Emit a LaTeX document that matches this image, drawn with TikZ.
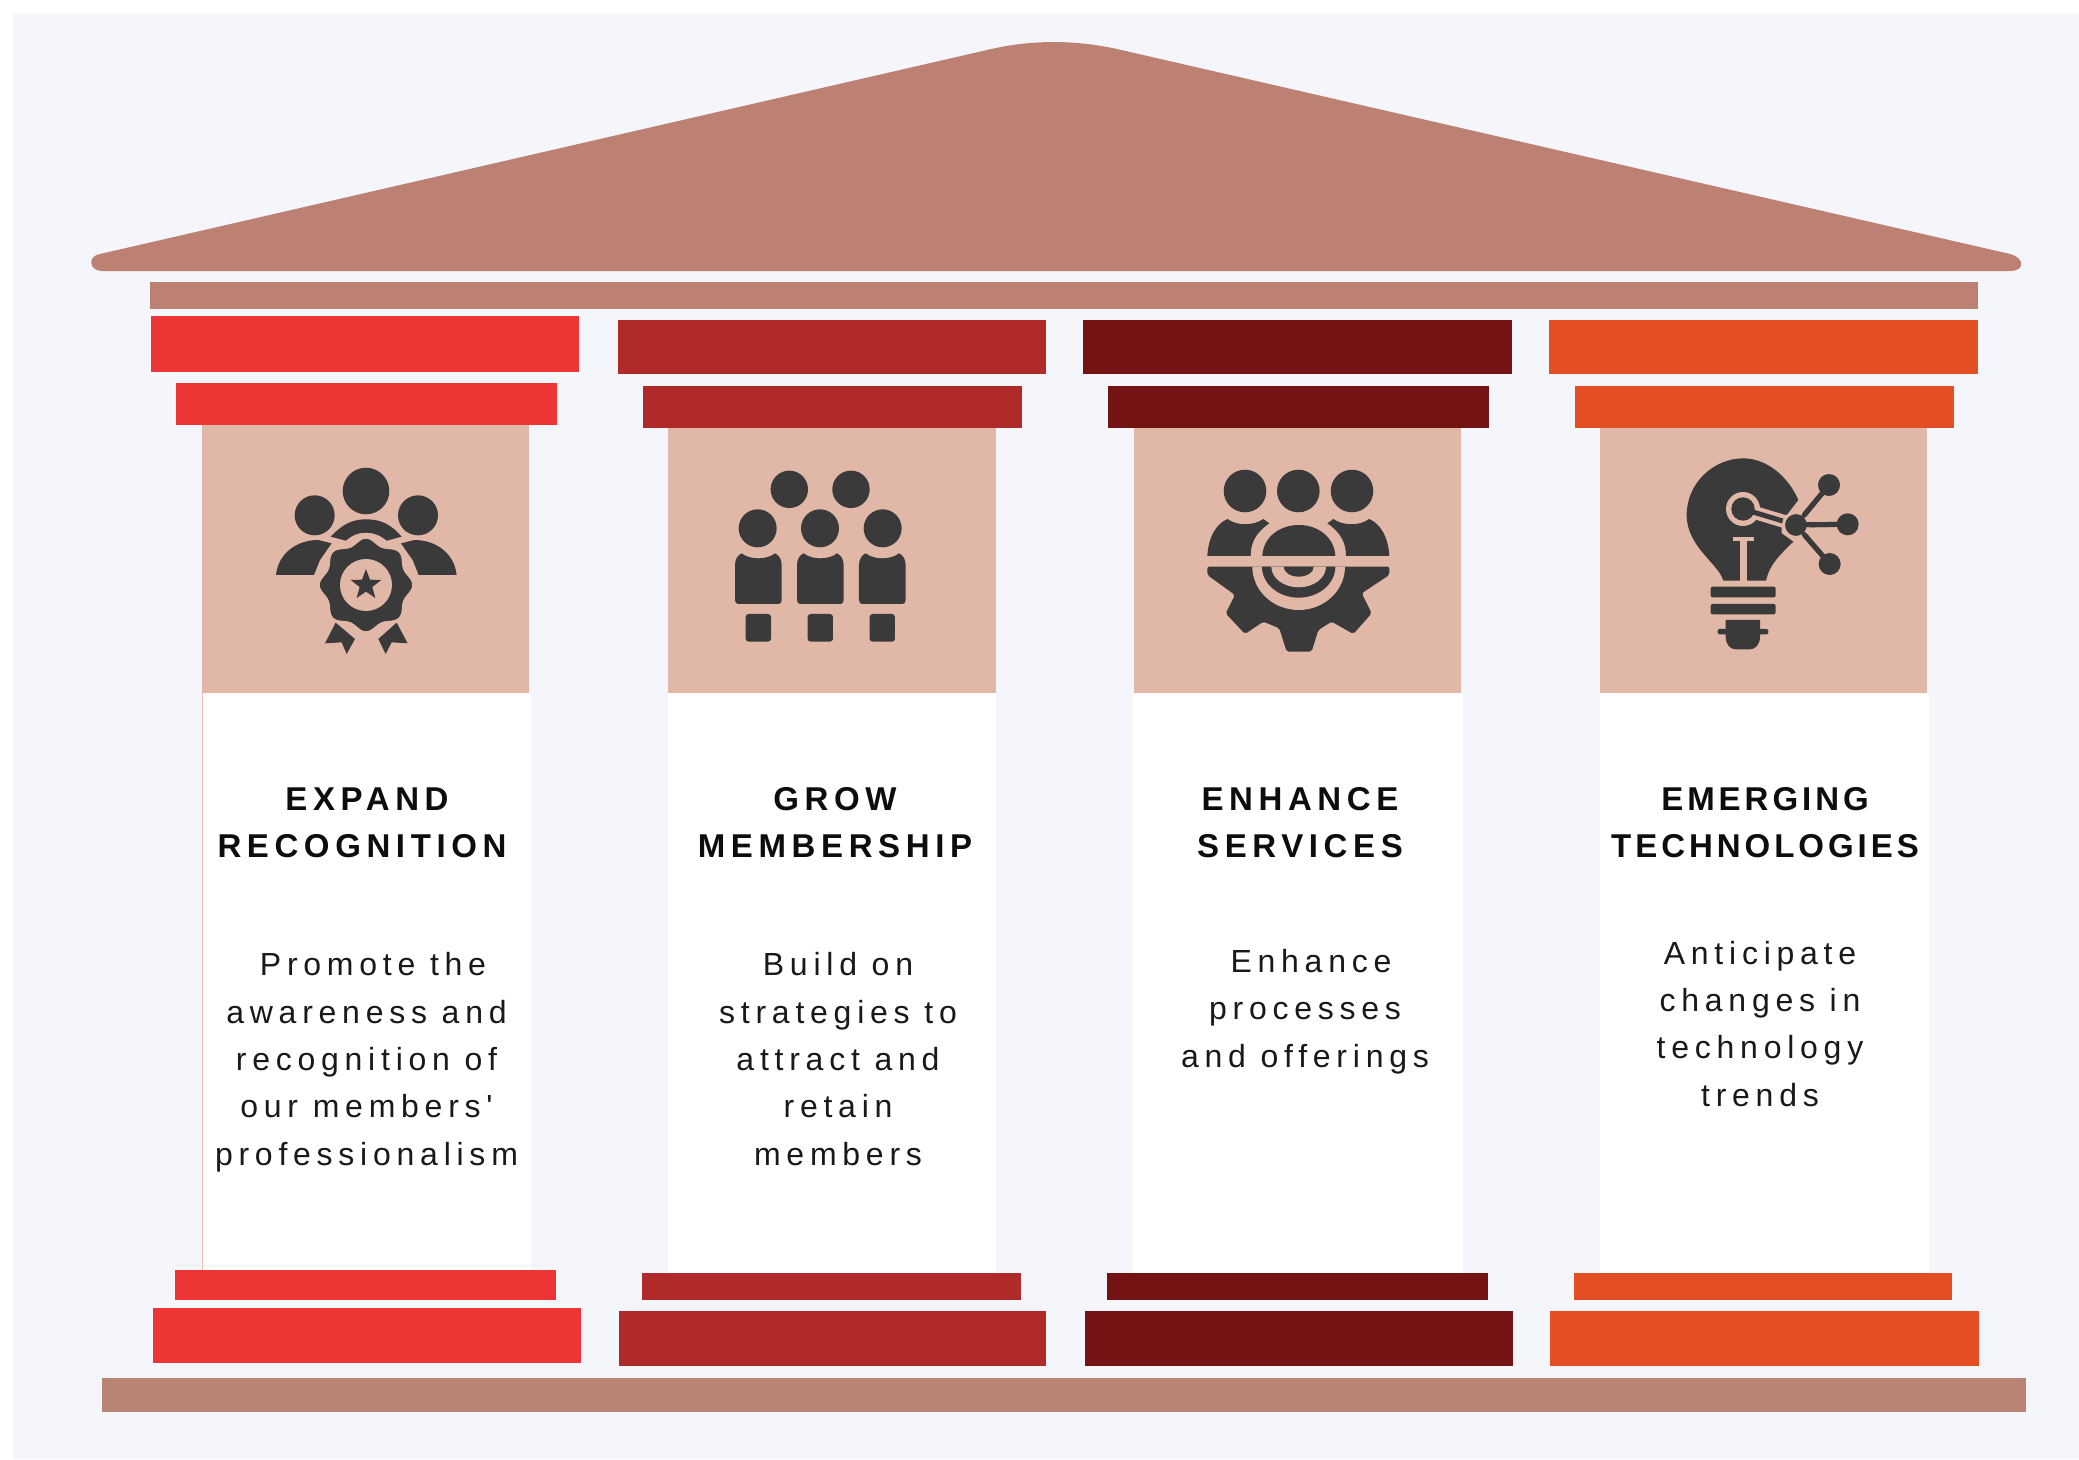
\documentclass[tikz,border=0pt]{standalone}
\usepackage{fontspec}
\newfontfamily\bodyf[LetterSpace=18]{Liberation Sans}
\newfontfamily\titlef[LetterSpace=17]{Liberation Sans}
\newfontfamily\titletight[LetterSpace=12]{Liberation Sans}
\definecolor{pagebg}{HTML}{F5F6FB}
\definecolor{roofc}{HTML}{BC8173}
\definecolor{basec}{HTML}{BA8475}
\definecolor{shaft}{HTML}{E1B7A7}
\definecolor{redA}{HTML}{EE3536}
\definecolor{redB}{HTML}{B02A2A}
\definecolor{redC}{HTML}{731313}
\definecolor{redD}{HTML}{E34E23}
\definecolor{ink}{HTML}{3A3A3A}
\tikzset{
  title/.style={anchor=base,align=center,inner sep=0pt,text=black!95,font=\titlef\bfseries\fontsize{33}{46.5}\selectfont},
  titlenarrow/.style={title,font=\titletight\bfseries\fontsize{33}{46.5}\selectfont},
  body/.style={anchor=base,align=center,inner sep=0pt,text=black!90,font=\bodyf\fontsize{32}{47.3}\selectfont},
  iconfill/.style={fill=ink},
  gap/.style={fill=shaft},
  wire/.style={draw=ink,line width=5pt,line cap=round}
}
% half ellipse below the line y=#2 in icon coordinates
\newcommand\halfdisc[5]{\fill[#5] ({#1-#3},#2) .. controls ({#1-#3},{#2+.5523*#4}) and ({#1-.5523*#3},{#2+#4}) .. (#1,{#2+#4}) .. controls ({#1+.5523*#3},{#2+#4}) and ({#1+#3},{#2+.5523*#4}) .. ({#1+#3},#2) -- cycle;}
\begin{document}
\begin{tikzpicture}[x=1pt,y=-1pt]
\useasboundingbox (0,0) rectangle (2079,1459);
\fill[white] (0,0) rectangle (2079,1459);
\fill[pagebg] (13,13) rectangle (2079,1459);
% roof
\fill[roofc] (102,271) .. controls (89,271) and (87,256) .. (100,254) -- (990,49.3) .. controls (1033,39.5) and (1076,39.6) .. (1120,49.7) -- (2010,254) .. controls (2025,258) and (2025,271) .. (2010,271) -- cycle;
\fill[roofc] (150,282) rectangle (1978,309);
% plinth
\fill[basec] (102,1378) rectangle (2026,1412);
% columns
\fill[white] (202,693) rectangle (531,1270);
\draw[line width=1pt,color=red!20!shaft!60!white] (202,693) -- (202,1270);
\fill[white] (668,693) rectangle (996,1273);
\fill[white] (1133,693) rectangle (1463,1273);
\fill[white] (1600,693) rectangle (1929,1273);
\fill[shaft] (202,425) rectangle (529,693);
\fill[shaft] (668,428) rectangle (996,693);
\fill[shaft] (1134,428) rectangle (1461,693);
\fill[shaft] (1600,428) rectangle (1927,693);
% capitals
\fill[redA] (151,316) rectangle (579,372);
\fill[redA] (176,383) rectangle (557,425);
\fill[redB] (618,320) rectangle (1046,374);
\fill[redB] (643,386) rectangle (1022,428);
\fill[redC] (1083,320) rectangle (1512,374);
\fill[redC] (1108,386) rectangle (1489,428);
\fill[redD] (1549,320) rectangle (1978,374);
\fill[redD] (1575,386) rectangle (1954,428);
% feet
\fill[redA] (175,1270) rectangle (556,1300);
\fill[redA] (153,1308) rectangle (581,1363);
\fill[redB] (642,1273) rectangle (1021,1300);
\fill[redB] (619,1311) rectangle (1046,1366);
\fill[redC] (1107,1273) rectangle (1488,1300);
\fill[redC] (1085,1311) rectangle (1513,1366);
\fill[redD] (1574,1273) rectangle (1952,1300);
\fill[redD] (1550,1311) rectangle (1979,1366);

% icon 1
\begin{scope}[shift={(240,440)},x=.3333pt,y=-.3333pt]
\fill[iconfill] (378,153) circle[radius=23.3pt];
\fill[iconfill] (224,226) circle[radius=20pt];
\fill[iconfill] (534,226) circle[radius=20pt];
\fill[iconfill] (108,405) .. controls (115,340) and (170,300) .. (235,300) -- (275,310) -- (240,360) -- (222,405) -- cycle;
\fill[iconfill] (650,405) .. controls (643,340) and (588,300) .. (523,300) -- (483,310) -- (518,360) -- (536,405) -- cycle;
\fill[iconfill] (272,290) .. controls (310,250) and (340,238) .. (378,238) .. controls (420,238) and (450,250) .. (485,290) -- (440,302) .. controls (420,285) and (400,278) .. (378,278) .. controls (356,278) and (336,285) .. (318,302) -- cycle;
\filldraw[fill=ink,draw=shaft,line width=4pt] plot[smooth cycle,domain=0:356,samples=90] ({378+(136+9*cos(8*\x))*cos(\x)},{435+(136+9*cos(8*\x))*sin(\x)});
\fill[shaft] (378,435) circle[radius=26pt];
\fill[iconfill] (378,387) -- (366,419) -- (332,420) -- (359,441) -- (350,474) -- (378,455) -- (406,474) -- (397,441) -- (424,420) -- (390,419) -- cycle;
\fill[iconfill] (287,548) -- (345,597) -- (320,642) -- (305,607) -- (255,610) -- cycle;
\fill[iconfill] (470,548) -- (415,597) -- (437,642) -- (455,607) -- (503,610) -- cycle;
\end{scope}

% icon 2
\begin{scope}[shift={(700,440)},x=.3333pt,y=-.3333pt]
\fill[iconfill] (268,148) circle[radius=18.7pt];
\fill[iconfill] (453,148) circle[radius=18.7pt];
\fill[iconfill] (173,265) circle[radius=19pt];
\fill[iconfill] (360,265) circle[radius=19pt];
\fill[iconfill] (548,265) circle[radius=19pt];
\foreach \c in {175,361,547}{
  \fill[iconfill] ({\c-70},375) .. controls ({\c-70},355) and ({\c-60},345) .. ({\c-50},340) .. controls ({\c-25},360) and ({\c+25},360) .. ({\c+50},340) .. controls ({\c+60},345) and ({\c+70},355) .. ({\c+70},375) -- ({\c+70},480) .. controls ({\c+70},488) and ({\c+66},492) .. ({\c+60},492) -- ({\c-60},492) .. controls ({\c-66},492) and ({\c-70},488) .. ({\c-70},480) -- cycle;
  \fill[iconfill,rounded corners=3pt] ({\c-38},522) rectangle ({\c+38},605);
}
\end{scope}

% icon 3
\begin{scope}[shift={(1180,440)},x=.3333pt,y=-.3333pt]
\fill[iconfill] (195,153) circle[radius=21.3pt];
\fill[iconfill] (355,153) circle[radius=21.3pt];
\fill[iconfill] (516,153) circle[radius=21.3pt];
\fill[iconfill] (82,348) .. controls (85,290) and (110,250) .. (143,237) .. controls (170,258) and (220,258) .. (250,237) -- (268,250) .. controls (225,280) and (212,310) .. (212,348) -- cycle;
\fill[iconfill] (628,348) .. controls (625,290) and (600,250) .. (567,237) .. controls (540,258) and (490,258) .. (460,237) -- (442,250) .. controls (485,280) and (498,310) .. (498,348) -- cycle;
\fill[iconfill] (247,348) .. controls (250,290) and (300,255) .. (357,255) .. controls (412,255) and (463,290) .. (466,348) -- cycle;
\fill[iconfill,rounded corners=2pt] (82,380) -- (628,380) -- (628,405) -- (545,460) -- (575,520) -- (520,582) -- (455,545) -- (415,570) -- (395,635) -- (320,635) -- (298,565) -- (250,545) -- (195,582) -- (137,520) -- (165,465) -- (82,405) -- cycle;
\halfdisc{356}{380}{139}{130}{gap}
\halfdisc{356}{380}{110}{93}{iconfill}
\halfdisc{356}{380}{82}{62}{gap}
\halfdisc{356}{380}{45}{30}{iconfill}
\end{scope}

% icon 4
\begin{scope}[shift={(1660,440)},x=.3333pt,y=-.3333pt]
\fill[iconfill] (190,422) .. controls (175,370) and (80,320) .. (80,225) .. controls (80,130) and (160,55) .. (250,55) .. controls (320,55) and (385,110) .. (415,180) -- (387,216) -- (365,255) -- (365,280) -- (400,305) .. controls (360,345) and (330,370) .. (318,422) -- cycle;
\fill[gap] (218,290) rectangle (282,303);
\fill[gap] (240,303) rectangle (262,425);
\draw[draw=shaft,line width=13pt] (249,207) -- (408,255);
\fill[gap] (249,207) circle[radius=17pt];
\fill[iconfill] (249,207) circle[radius=11.7pt];
\draw[wire] (249,207) -- (408,255);
\draw[wire] (408,255) -- (507,135);
\draw[wire] (408,255) -- (563,253);
\draw[wire] (408,255) -- (509,372);
\fill[iconfill] (507,135) circle[radius=11pt];
\fill[iconfill] (563,253) circle[radius=11pt];
\fill[iconfill] (509,372) circle[radius=11pt];
\filldraw[fill=ink,draw=shaft,line width=3pt] (408,255) circle[radius=12.5pt];
\draw[wire] (432,226) -- (507,135);
\draw[wire] (440,254) -- (563,253);
\draw[wire] (432,283) -- (509,372);
\fill[iconfill,rounded corners=2pt] (152,440) rectangle (347,472);
\fill[iconfill,rounded corners=2pt] (152,492) rectangle (347,523);
\fill[iconfill,rounded corners=2pt] (173,567) rectangle (325,583);
\fill[iconfill] (197,540) -- (300,540) -- (300,590) .. controls (300,615) and (285,628) .. (270,628) -- (227,628) .. controls (212,628) and (197,615) .. (197,590) -- cycle;
\end{scope}

% text
\node[title] (t1) at (362,857) {\hspace*{10pt}EXPAND\\RECOGNITION};
\node[title] (t2) at (835,857) {GROW\\MEMBERSHIP};
\node[title] (t3) at (1300,857) {ENHANCE\\SERVICES};
\node[titlenarrow] (t4) at (1765,857) {EMERGING\\TECHNOLOGIES};
\node[body] (b1) at (366.5,1165) {\hspace*{13pt}Promote the\\awareness and\\recognition of\\our members'\\professionalism};
\node[body] (b2) at (838,1165) {Build on\\strategies to\\attract and\\retain\\members};
\node[body] (b3) at (1305,1067) {\hspace*{12pt}Enhance\\processes\\and offerings};
\node[body] (b4) at (1760,1106) {Anticipate\\changes in\\technology\\trends};
\end{tikzpicture}
\end{document}
